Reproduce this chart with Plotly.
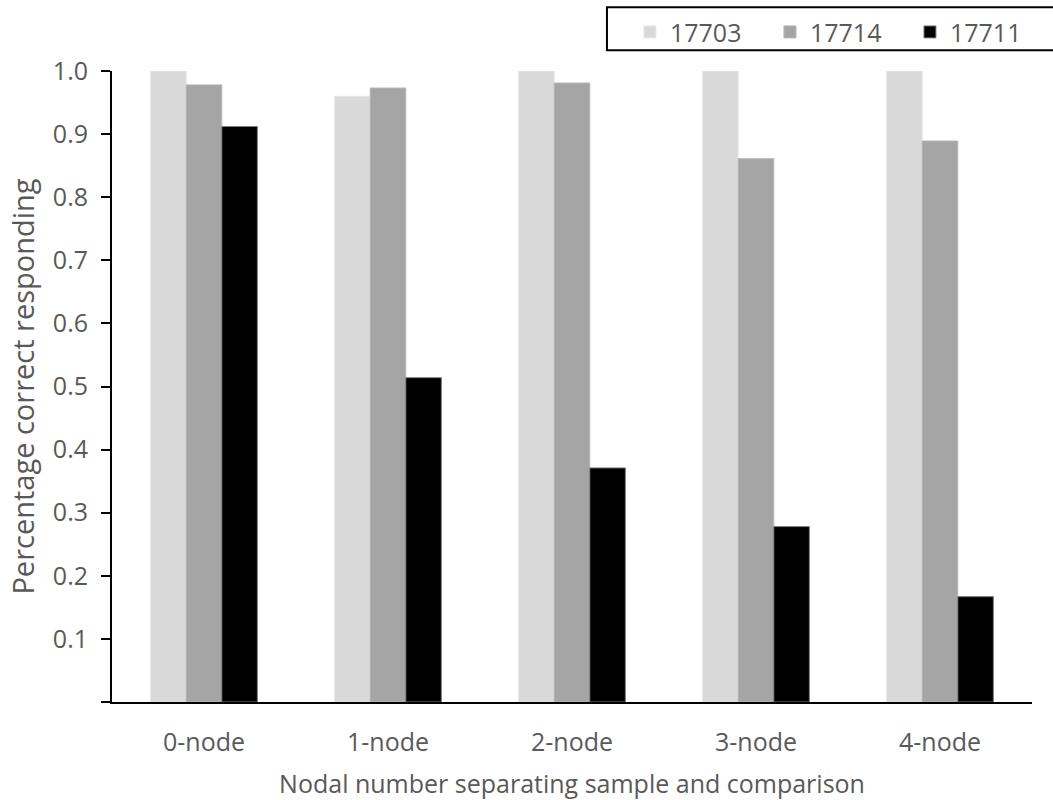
import plotly.graph_objects as go

categories = ["0-node", "1-node", "2-node", "3-node", "4-node"]
s17703 = [1.0, 0.96, 1.0, 1.0, 1.0]
s17714 = [0.978, 0.973, 0.981, 0.861, 0.889]
s17711 = [0.912, 0.514, 0.371, 0.278, 0.167]

series = [
    ("17703", s17703, "#D9D9D9", "#E6E6E6"),
    ("17714", s17714, "#A5A5A5", "#B5B5B5"),
    ("17711", s17711, "#000000", "#7F7F7F"),
]

tick_vals = [0.0, 0.1, 0.2, 0.3, 0.4, 0.5, 0.6, 0.7, 0.8, 0.9, 1.0]
tick_text = [""] + [f"{v:.1f}" for v in tick_vals[1:]]

font_family = "Open Sans"
text_color = "#595959"

fig = go.Figure()
for name, vals, color, edge in series:
    fig.add_trace(go.Bar(
        name=name, x=categories, y=vals,
        marker=dict(color=color, line=dict(color=edge, width=1)),
    ))

# frame around the legend row
fig.add_shape(
    type="rect", xref="paper", yref="paper",
    x0=0.538, x1=1.03, y0=1.033, y1=1.101,
    line=dict(color="#000000", width=2), fillcolor="white", layer="below",
)

fig.update_layout(
    width=1053, height=800,
    margin=dict(l=112, r=21, t=71, b=98, autoexpand=False),
    paper_bgcolor="white", plot_bgcolor="white",
    barmode="group", bargap=0.42, bargroupgap=0,
    font=dict(family=font_family, size=25, color=text_color),
    showlegend=True,
    legend=dict(
        orientation="h", x=0.563, xanchor="left", y=1.098, yanchor="top",
        borderwidth=0, bgcolor="rgba(0,0,0,0)",
        font=dict(size=25, color=text_color),
        itemwidth=30, traceorder="normal",
        entrywidth=95, entrywidthmode="pixels",
    ),
    xaxis=dict(
        showline=True, linecolor="#000000", linewidth=2,
        ticks="", showgrid=False, ticklabelstandoff=17,
        title=dict(text="Nodal number separating sample and comparison",
                   font=dict(size=25, color=text_color), standoff=18),
    ),
    yaxis=dict(
        range=[0, 1.0], showline=True, linecolor="#000000", linewidth=2,
        ticks="outside", ticklen=9, tickwidth=2, tickcolor="#000000",
        tickvals=tick_vals, ticktext=tick_text, showgrid=False,
        zeroline=False, ticklabelstandoff=8,
        title=dict(text="Percentage correct responding",
                   font=dict(size=29, color=text_color), standoff=10),
    ),
)

fig.write_html("out.html")
